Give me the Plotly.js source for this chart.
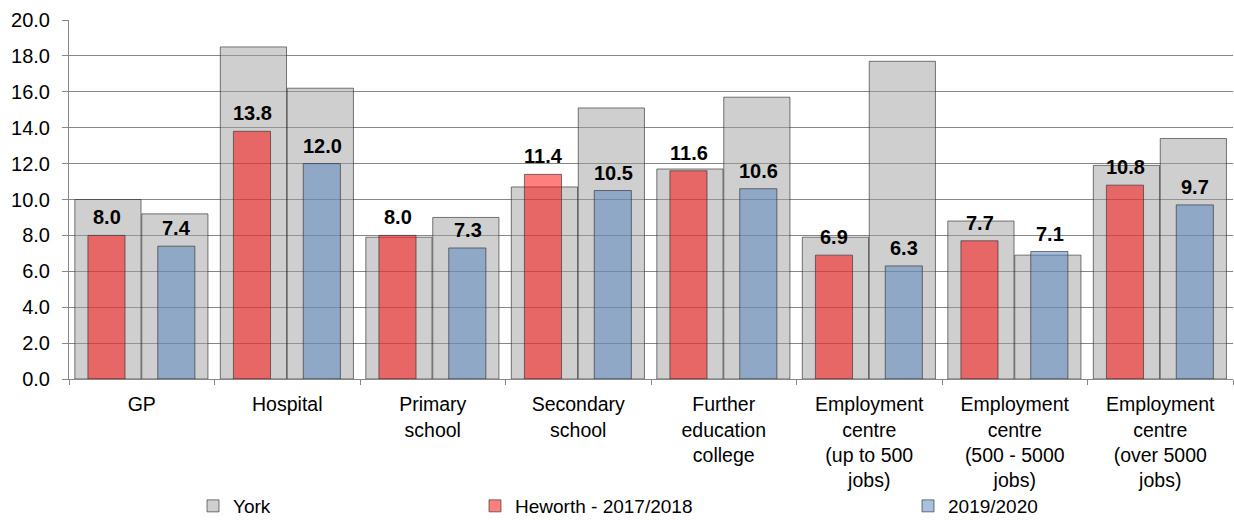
<!DOCTYPE html>
<html>
<head>
<meta charset="utf-8">
<script src="https://cdn.plot.ly/plotly-3.0.1.min.js"></script>
<style>
  html, body { margin: 0; padding: 0; background: #ffffff; }
  #chart { width: 1234px; height: 520px; }
</style>
</head>
<body>
<div id="chart"></div>
<script>
// ---- data ----
const categories = ["GP", "Hospital", "Primary school", "Secondary school",
  "Further education college", "Employment centre (up to 500 jobs)",
  "Employment centre (500 - 5000 jobs)", "Employment centre (over 5000 jobs)"];
const tickLabels = ["GP", "Hospital", "Primary<br>school", "Secondary<br>school",
  "Further<br>education<br>college", "Employment<br>centre<br>(up to 500<br>jobs)",
  "Employment<br>centre<br>(500 - 5000<br>jobs)", "Employment<br>centre<br>(over 5000<br>jobs)"];
const york2017 = [10.0, 18.5, 7.9, 10.7, 11.7, 7.9, 8.8, 11.9];
const york2019 = [9.2, 16.2, 9.0, 15.1, 15.7, 17.7, 6.9, 13.4];
const heworth2017 = [8.0, 13.8, 8.0, 11.4, 11.6, 6.9, 7.7, 10.8];
const heworth2019 = [7.4, 12.0, 7.3, 10.5, 10.6, 6.3, 7.1, 9.7];
const yTicks = [0, 2, 4, 6, 8, 10, 12, 14, 16, 18, 20];

const FONT = "Arial, 'Liberation Sans', sans-serif";
const edge = "rgba(50,50,50,0.65)";

const traces = [
  { type: "bar", name: "York", x: categories, y: york2017,
    offset: -0.46, width: 0.455,
    marker: { color: "rgba(160,160,160,0.5)", line: { color: edge, width: 1 } },
    legend: "legend", hoverinfo: "skip" },
  { type: "bar", name: "York", x: categories, y: york2019,
    offset: 0.0, width: 0.455, showlegend: false,
    marker: { color: "rgba(160,160,160,0.5)", line: { color: edge, width: 1 } },
    hoverinfo: "skip" },
  { type: "bar", name: "Heworth - 2017/2018", x: categories, y: heworth2017,
    offset: -0.37, width: 0.255,
    marker: { color: "rgba(255,0,0,0.5)", line: { color: edge, width: 1 } },
    legend: "legend2", hoverinfo: "skip" },
  { type: "bar", name: "2019/2020", x: categories, y: heworth2019,
    offset: 0.11, width: 0.255,
    marker: { color: "rgba(79,129,189,0.5)", line: { color: edge, width: 1 } },
    legend: "legend3", hoverinfo: "skip" }
];

// value labels above the coloured bars
const labelFont = { family: FONT, size: 20, color: "#000", weight: "bold" };
const annotations = [];
categories.forEach((c, i) => {
  annotations.push({ x: c, y: heworth2017[i], xref: "x", yref: "y",
    text: heworth2017[i].toFixed(1), showarrow: false, xanchor: "center",
    yanchor: "bottom", xshift: -35, yshift: 5, font: labelFont });
  annotations.push({ x: c, y: heworth2019[i], xref: "x", yref: "y",
    text: heworth2019[i].toFixed(1), showarrow: false, xanchor: "center",
    yanchor: "bottom", xshift: 35, yshift: 5, font: labelFont });
});

const legendBase = { orientation: "h", xref: "container", yref: "container",
  xanchor: "left", yanchor: "middle", y: 1 - 506 / 520,
  font: { family: FONT, size: 19, color: "#000" }, bgcolor: "rgba(0,0,0,0)" };

const layout = {
  width: 1234, height: 520,
  margin: { l: 69, r: 1, t: 20, b: 141 },
  paper_bgcolor: "#ffffff", plot_bgcolor: "#ffffff",
  barmode: "overlay",
  font: { family: FONT, size: 20, color: "#000" },
  xaxis: {
    type: "category", tickvals: categories, ticktext: tickLabels,
    tickson: "boundaries", ticks: "outside", ticklen: 5, tickcolor: "#888",
    showline: true, linecolor: "#888", linewidth: 1, showgrid: false,
    tickfont: { family: FONT, size: 19.5, color: "#000" }, tickangle: 0,
    ticklabelstandoff: 8
  },
  yaxis: {
    range: [0, 20], tickvals: yTicks, tickformat: ".1f",
    ticks: "outside", ticklen: 6, tickcolor: "#888",
    showline: true, linecolor: "#888", linewidth: 1,
    showgrid: true, gridcolor: "#878787", gridwidth: 1, zeroline: false,
    tickfont: { family: FONT, size: 20, color: "#000" }, ticklabelstandoff: 8
  },
  annotations: annotations,
  legend: Object.assign({}, legendBase, { x: 193 / 1234 }),
  legend2: Object.assign({}, legendBase, { x: 475 / 1234 }),
  legend3: Object.assign({}, legendBase, { x: 908 / 1234 }),
  showlegend: true
};

Plotly.newPlot("chart", traces, layout, { displayModeBar: false, staticPlot: true });
</script>
</body>
</html>
